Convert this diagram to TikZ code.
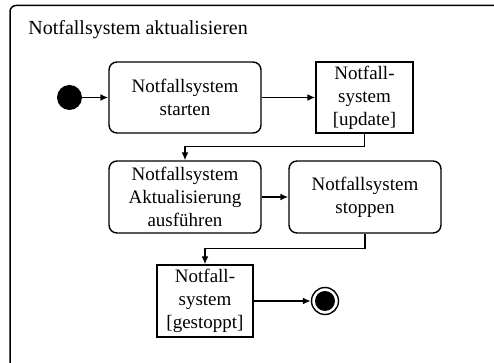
\documentclass[tikz,border=0pt]{standalone}
\usepackage{fontspec}
\setmainfont{Liberation Serif}
\usetikzlibrary{arrows.meta}

\begin{document}
\begin{tikzpicture}[x=0.5pt,y=-0.5pt,
    action/.style={draw,line width=0.7pt,rounded corners=4pt,align=center,
      minimum width=76pt,minimum height=35.5pt,inner sep=1pt,
      font=\fontsize{9.5}{11.5}\selectfont},
    object/.style={draw,line width=0.7pt,align=center,
      minimum width=48.5pt,minimum height=35.5pt,inner sep=1pt,
      font=\fontsize{9.5}{11.5}\selectfont},
    flow/.style={line width=0.7pt,-{Latex[length=4pt,width=3.4pt]}}]
                    \useasboundingbox (0,0) rectangle (494,363);
                    \clip (0,0) rectangle (494,363);

                    % Drawing frame of the activity
                    \draw [line width=0.75pt,rounded corners=3pt] (10,5.5) rectangle (530,390);%
                    \node (title) [anchor=base west,inner sep=0pt,font=\fontsize{10}{12}\selectfont]
                      at (28,35) {Notfallsystem aktualisieren};%

                    % Drawing start and end points
                    \node (start) [circle,fill=black,minimum size=12.5pt,inner sep=0pt] at (69.5,97.5) {};%
                    \node (ende) [circle,draw,line width=0.7pt,minimum size=13.5pt,inner sep=0pt] at (325,301) {};%
                    \fill (ende.center) circle (5pt);%

                    % Drawing actions and objects
                    \node (starten) [action] at (185,97.5) {Notfallsystem\\starten};%
                    \node (update) [object] at (364.5,97.5) {Notfall-\\system\\{[update]}};%
                    \node (ausfuehren) [action,minimum height=36pt] at (185,197) {Notfallsystem\\Aktualisierung\\ausführen};%
                    \node (stoppen) [action,minimum height=36pt] at (365,197) {Notfallsystem\\stoppen};%
                    \node (gestoppt) [object,minimum width=48pt,minimum height=36pt] at (205,301) {Notfall-\\system\\{[gestoppt]}};%

                    % Drawing control flows
                    \draw [flow] (start) -- (starten);%
                    \draw [flow] (starten) -- (update);%
                    \draw [flow] (update.south) -- ++(0,-6.5pt) -| (ausfuehren.north);%
                    \draw [flow] (ausfuehren) -- (stoppen);%
                    \draw [flow] (stoppen.south) -- ++(0,-7.5pt) -| (gestoppt.north);%
                    \draw [flow] (gestoppt) -- (ende);%
\end{tikzpicture}
\end{document}
